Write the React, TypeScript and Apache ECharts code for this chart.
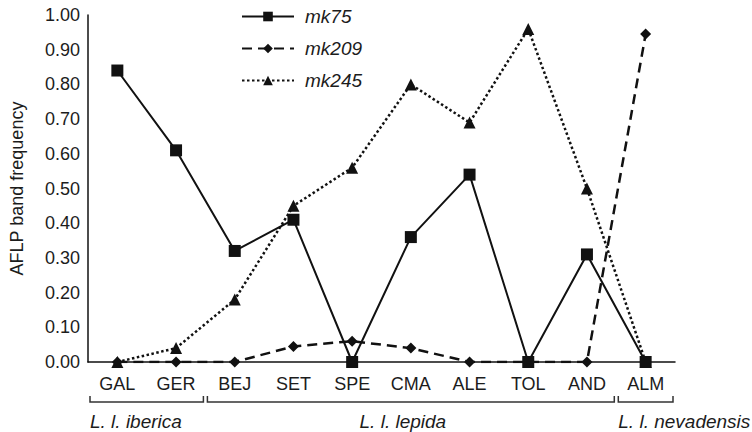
import React, { useEffect, useRef } from "react";
import * as echarts from "echarts";

const categories = ["GAL", "GER", "BEJ", "SET", "SPE", "CMA", "ALE", "TOL", "AND", "ALM"];
const mk75 = [0.84, 0.61, 0.32, 0.41, 0.0, 0.36, 0.54, 0.0, 0.31, 0.0];
const mk209 = [0.0, 0.0, 0.0, 0.045, 0.06, 0.04, 0.0, 0.0, 0.0, 0.945];
const mk245 = [0.0, 0.04, 0.18, 0.45, 0.56, 0.8, 0.69, 0.96, 0.5, 0.0];
const groups = [
  { name: "L. l. iberica", from: 0, to: 1, align: "left" },
  { name: "L. l. lepida", from: 2, to: 8, align: "center" },
  { name: "L. l. nevadensis", from: 9, to: 9, align: "left" },
];

const FONT = "'Liberation Sans', Arial, sans-serif";
const INK = "#111";
const TXT = "#1c1c1c";

export default function App() {
  const ref = useRef<HTMLDivElement>(null);
  useEffect(() => {
    document.body.style.margin = "0";
    if (!ref.current) return;
    const chart = echarts.init(ref.current, null, { renderer: "svg" });
    const lineSeries = (name: string, data: number[], symbol: string, size: number, type: any, width: number) => ({
      name,
      type: "line",
      data,
      symbol,
      symbolSize: size,
      showAllSymbol: true,
      itemStyle: { color: INK, borderWidth: 0 },
      lineStyle: { color: INK, width, type },
      emphasis: { disabled: true },
    });
    chart.setOption({
      animation: false,
      textStyle: { fontFamily: FONT },
      grid: { left: 82, right: 77, top: 15, bottom: 70, containLabel: false },
      legend: {
        orient: "vertical",
        left: 236,
        top: 2,
        itemWidth: 52,
        itemHeight: 12,
        itemGap: 13,
        data: ["mk75", "mk209", "mk245"],
        textStyle: { fontFamily: FONT, fontSize: 19, fontStyle: "italic", color: TXT, padding: [0, 0, 0, 6] },
      },
      xAxis: {
        type: "category",
        data: categories,
        boundaryGap: true,
        axisTick: { show: false },
        axisLine: { show: true, lineStyle: { color: INK, width: 1.5 } },
        axisLabel: { color: TXT, fontSize: 18, fontFamily: FONT, margin: 13 },
        splitLine: { show: false },
      },
      yAxis: {
        type: "value",
        min: 0,
        max: 1,
        interval: 0.1,
        name: "AFLP band frequency",
        nameLocation: "middle",
        nameRotate: 90,
        nameGap: 62,
        nameTextStyle: { color: TXT, fontSize: 18, fontFamily: FONT },
        axisTick: { show: false },
        axisLine: { show: true, lineStyle: { color: INK, width: 1.5 } },
        axisLabel: { color: TXT, fontSize: 18, fontFamily: FONT, margin: 8, formatter: (v: number) => v.toFixed(2) },
        splitLine: { show: false },
      },
      series: [
        lineSeries("mk245", mk245, "triangle", 12, [2.5, 2.5], 2.5),
        lineSeries("mk209", mk209, "diamond", 11, [10, 6], 2.5),
        lineSeries("mk75", mk75, "rect", 12, "solid", 2),
      ],
    });

    const c0 = chart.convertToPixel({ xAxisIndex: 0 }, 0) as number;
    const c1 = chart.convertToPixel({ xAxisIndex: 0 }, 1) as number;
    const band = c1 - c0;
    const yBr = 402;
    const graphics: any[] = [];
    groups.forEach((g) => {
      const x1 = (chart.convertToPixel({ xAxisIndex: 0 }, g.from) as number) - band / 2 + 2;
      const x2 = (chart.convertToPixel({ xAxisIndex: 0 }, g.to) as number) + band / 2 - 2;
      graphics.push({
        type: "polyline",
        shape: { points: [[x1, yBr - 6], [x1, yBr], [x2, yBr], [x2, yBr - 6]] },
        style: { stroke: "#333", lineWidth: 1.5, fill: null },
      });
      graphics.push({
        type: "text",
        x: g.align === "center" ? (x1 + x2) / 2 - 8 : x1,
        y: 421,
        style: {
          text: g.name,
          fontFamily: FONT,
          fontSize: 19,
          fontStyle: "italic",
          fill: TXT,
          align: g.align,
          verticalAlign: "middle",
        },
      });
    });
    chart.setOption({ graphic: graphics });
    return () => chart.dispose();
  }, []);
  return <div ref={ref} style={{ width: 752, height: 432 }} />;
}
